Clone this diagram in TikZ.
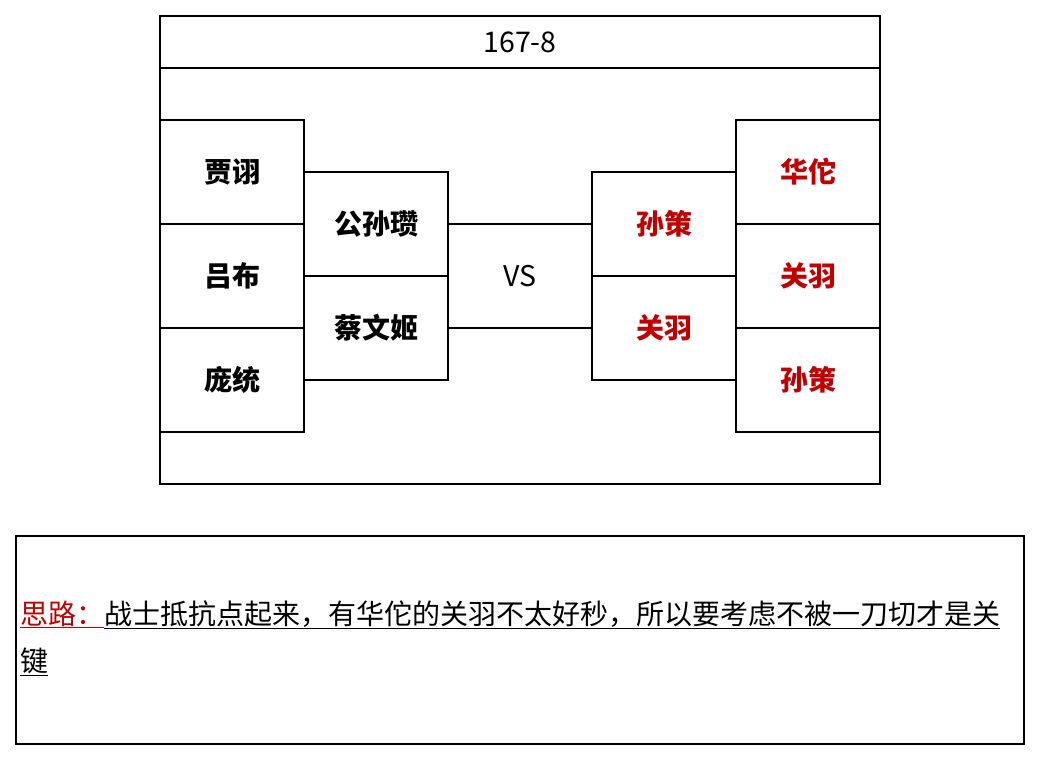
\documentclass[tikz,border=0pt]{standalone}
\usepackage{fontspec}
\setmainfont{Noto Sans CJK SC}
\usetikzlibrary{positioning}
\definecolor{sgred}{HTML}{C00000}
\tikzset{
    cell/.style={draw,line width=1.5pt,inner sep=0pt,outer sep=0pt},   % plain box
    hero/.style={cell,minimum width=144pt,minimum height=104pt,
        font=\fontsize{28}{32}\selectfont\bfseries},
    foe/.style={hero,text=sgred},
    big/.style={font=\fontsize{28.5}{33}\selectfont},
    memo/.style={inner sep=0pt,anchor=base west,font=\fontsize{28}{33}\selectfont}
}

\begin{document}
\begin{tikzpicture}[x=1pt,y=-1pt]
\useasboundingbox (0,0) rectangle (1040,760);
\node[cell,minimum width=720pt,minimum height=468pt] (card) at (520,250) {};
\node[cell,big,minimum width=720pt,minimum height=52pt,anchor=north] (title) at (card.north) {167-8};
\node[hero] (jx) at (232,172) {贾诩};
\node[hero,below=0pt of jx] (lb) {吕布};
\node[hero,below=0pt of lb] (pt) {庞统};
\node[hero] (gs) at (376,224) {公孙瓒};
\node[hero,below=0pt of gs] (cw) {蔡文姬};
\node[foe] (sc) at (664,224) {孙策};
\node[foe,below=0pt of sc] (gy) {关羽};
\node[foe] (ht) at (808,172) {华佗};
\node[foe,below=0pt of ht] (gy2) {关羽};
\node[foe,below=0pt of gy2] (sc2) {孙策};
\node[big] (vs) at (520,276) {VS};
\draw[line width=1.5pt] (gs.east) -- (sc.west);
\draw[line width=1.5pt] (cw.east) -- (gy.west);
\node[cell,minimum width=1008pt,minimum height=208pt] (note) at (520,640) {};
\node[memo] (line1) at (20,624)
    {{\color{sgred}\underline{思路：}}\underline{战士抵抗点起来，有华佗的关羽不太好秒，所以要考虑不被一刀切才是关}};
\node[memo] (line2) at (20,671) {\underline{键}};
\end{tikzpicture}
\end{document}
